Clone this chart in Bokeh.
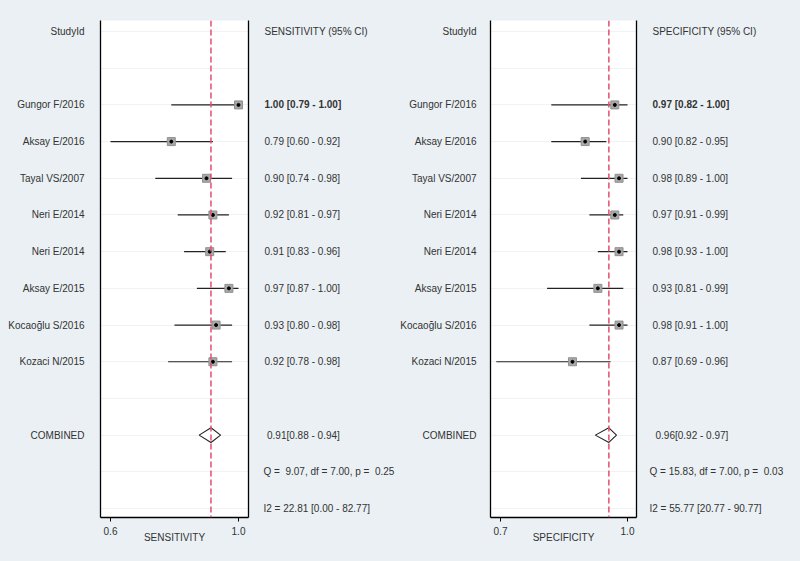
from bokeh.plotting import figure
from bokeh.models import (Range1d, Span, LinearAxis, FixedTicker,
                          NumeralTickFormatter, GlobalInlineStyleSheet)
from bokeh.layouts import row
from bokeh.core.properties import value
from bokeh.embed import file_html
from bokeh.resources import INLINE

# ---------------- data ----------------
studies = ["Gungor F/2016", "Aksay E/2016", "Tayal VS/2007", "Neri E/2014",
           "Neri E/2014", "Aksay E/2015", "Kocaoğlu S/2016", "Kozaci N/2015"]

sens = [1.00, 0.79, 0.90, 0.92, 0.91, 0.97, 0.93, 0.92]
sens_lo = [0.79, 0.60, 0.74, 0.81, 0.83, 0.87, 0.80, 0.78]
sens_hi = [1.00, 0.92, 0.98, 0.97, 0.96, 1.00, 0.98, 0.98]

spec = [0.97, 0.90, 0.98, 0.97, 0.98, 0.93, 0.98, 0.87]
spec_lo = [0.82, 0.82, 0.89, 0.91, 0.93, 0.81, 0.91, 0.69]
spec_hi = [1.00, 0.95, 1.00, 0.99, 1.00, 0.99, 1.00, 0.96]

# pooled estimate, lower, upper (as drawn; labels show them rounded)
sens_pooled = [0.914, 0.877, 0.944]
spec_pooled = [0.956, 0.924, 0.974]

sens_q = "Q =\u00a0 9.07, df = 7.00, p =\u00a0 0.25"
spec_q = "Q = 15.83, df = 7.00, p =\u00a0 0.03"
sens_i2 = "I2 = 22.81 [0.00 - 82.77]"
spec_i2 = "I2 = 55.77 [20.77 - 90.77]"

sens_ticks = [0.6, 1.0]
spec_ticks = [0.7, 1.0]

# row positions (top to bottom)
header_row = 0
study_rows = [2, 3, 4, 5, 6, 7, 8, 9]
combined_row = 11
q_row = 12
i2_row = 13

BG = "#eaf0f4"
TXT = "#333333"
FONT = "Liberation Sans"
FS = "10px"
H = 545
TOP, BOTTOM = 20, 27

yr = Range1d(13.245, -0.3)


def est_text(e, l, u, sep=" "):
    return f"{e:.2f}{sep}[{l:.2f} - {u:.2f}]"


def text_fig(width):
    p = figure(width=width, height=H, x_range=Range1d(0, width), y_range=yr,
               min_border_left=0, min_border_right=0,
               min_border_top=TOP, min_border_bottom=BOTTOM,
               x_axis_location=None, y_axis_location=None,
               toolbar_location=None, output_backend="svg",
               background_fill_color=BG, border_fill_color=BG,
               outline_line_color=None)
    p.grid.grid_line_color = None
    return p


def put(p, xs, ys, texts, align, bold=False):
    p.text(x=xs, y=ys, text=texts, text_align=align, text_baseline="middle",
           text_font=value(FONT), text_font_size=value(FS), text_color=TXT,
           text_font_style="bold" if bold else "normal")


def plot_fig(width, est, lo, hi, pooled, ticks, xr, measure):
    p = figure(width=width, height=H,
               x_range=Range1d(*xr), y_range=yr,
               min_border_left=10, min_border_right=10,
               min_border_top=TOP, min_border_bottom=BOTTOM,
               y_axis_location=None, toolbar_location=None,
               output_backend="svg",
               background_fill_color="white", border_fill_color=BG,
               outline_line_color=None)

    p.xgrid.grid_line_color = None
    p.ygrid.ticker = FixedTicker(ticks=list(range(0, 14)))
    p.ygrid.grid_line_color = "#f2f2f2"

    ax = p.xaxis[0]
    ax.ticker = FixedTicker(ticks=ticks)
    ax.formatter = NumeralTickFormatter(format="0.0")
    ax.minor_tick_line_color = None
    ax.major_tick_in = 0
    ax.major_tick_out = 4
    ax.axis_line_color = "black"
    ax.axis_line_width = 1.3
    ax.major_tick_line_color = "black"
    ax.major_label_text_font = FONT
    ax.major_label_text_font_size = FS
    ax.major_label_text_color = TXT
    ax.major_label_standoff = 5
    ax.axis_label = measure
    ax.axis_label_text_font = FONT
    ax.axis_label_text_font_size = FS
    ax.axis_label_text_font_style = "normal"
    ax.axis_label_text_color = TXT
    ax.axis_label_standoff = -6

    for side in ("left", "right"):
        b = LinearAxis(ticker=FixedTicker(ticks=[]), axis_line_color="black",
                       axis_line_width=1.3, major_tick_line_color=None,
                       minor_tick_line_color=None,
                       major_label_text_font_size="0px")
        p.add_layout(b, side)

    p.add_layout(Span(location=pooled[0], dimension="height",
                      line_color="#e2506c", line_dash="6 3", line_width=1.5))

    p.segment(x0=lo, y0=study_rows, x1=hi, y1=study_rows,
              line_color="#222222", line_width=1.2)
    p.scatter(x=est, y=study_rows, marker="square", size=8,
              fill_color="#a8a8a8", line_color="#909090")
    p.scatter(x=est, y=study_rows, marker="circle", size=3,
              fill_color="black", line_color="black")

    h = 0.2
    p.patch(x=[pooled[1], pooled[0], pooled[2], pooled[0]],
            y=[combined_row, combined_row - h, combined_row, combined_row + h],
            fill_color="white", line_color="#222222", line_width=1.1)
    return p


# ---- figure A: study labels of left panel ----
fa = text_fig(90)
put(fa, [84], [header_row], ["StudyId"], "right")
put(fa, [84] * len(studies), study_rows, studies, "right")
put(fa, [84], [combined_row], ["COMBINED"], "right")

# ---- left plot ----
pl = plot_fig(168, sens, sens_lo, sens_hi, sens_pooled, sens_ticks,
              (0.56875, 1.03125), "SENSITIVITY")

# ---- middle: left estimates + right study labels ----
fm = text_fig(222)
put(fm, [6], [header_row], ["SENSITIVITY (95% CI)"], "left")
s_txt = [est_text(e, l, u) for e, l, u in zip(sens, sens_lo, sens_hi)]
put(fm, [6], study_rows[:1], s_txt[:1], "left", bold=True)
put(fm, [6] * 7, study_rows[1:], s_txt[1:], "left")
put(fm, [8.5], [combined_row], [est_text(*sens_pooled, sep="")], "left")
put(fm, [5, 5], [q_row, i2_row], [sens_q, sens_i2], "left")
put(fm, [218], [header_row], ["StudyId"], "right")
put(fm, [218] * len(studies), study_rows, studies, "right")
put(fm, [218], [combined_row], ["COMBINED"], "right")

# ---- right plot ----
pr = plot_fig(166, spec, spec_lo, spec_hi, spec_pooled, spec_ticks,
              (0.67638, 1.02126), "SPECIFICITY")

# ---- figure B: right estimates ----
fb = text_fig(138)
put(fb, [6], [header_row], ["SPECIFICITY (95% CI)"], "left")
p_txt = [est_text(e, l, u) for e, l, u in zip(spec, spec_lo, spec_hi)]
put(fb, [6], study_rows[:1], p_txt[:1], "left", bold=True)
put(fb, [6] * 7, study_rows[1:], p_txt[1:], "left")
put(fb, [9], [combined_row], [est_text(*spec_pooled, sep="")], "left")
put(fb, [3, 3], [q_row, i2_row], [spec_q, spec_i2], "left")

page_bg = GlobalInlineStyleSheet(css="html, body { background-color: %s; }" % BG)
layout = row(fa, pl, fm, pr, fb, spacing=0,
             styles={"background-color": BG}, stylesheets=[page_bg])
open("out.html", "w").write(file_html(layout, INLINE))
